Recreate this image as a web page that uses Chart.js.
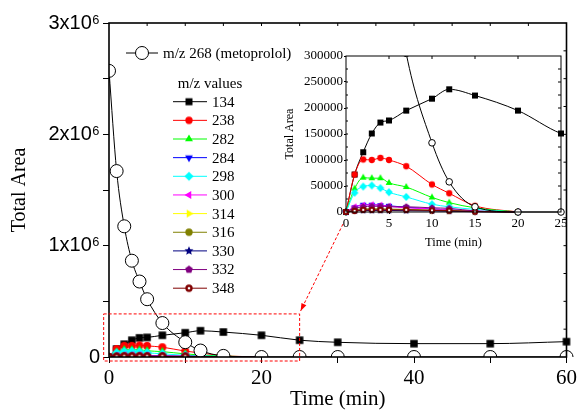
<!DOCTYPE html>
<html>
<head>
<meta charset="utf-8">
<script src="https://cdn.jsdelivr.net/npm/chart.js@4/dist/chart.umd.min.js"></script>
<style>
  html, body { margin: 0; padding: 0; background: #fff; }
  #wrap { position: relative; width: 580px; height: 412px; }
  #main { position: absolute; left: 0; top: 0; }
  #inset { position: absolute; left: 278px; top: 40px; }
</style>
</head>
<body>
<div id="wrap">
  <canvas id="main" width="580" height="412"></canvas>
  <canvas id="inset" width="292" height="210"></canvas>
</div>
<script>
// sampling times (min)
const timeFull = [0, 1, 2, 3, 4, 5, 7, 10, 12, 15, 20, 25, 30, 40, 50, 60];
const timeShort = [0, 1, 2, 3, 4, 5, 7, 10, 12, 15, 20];

// total area values
const meto268 = [2570000, 1670000, 1174000, 865000, 678000, 519000, 305000, 133000, 58000, 10000, 0, 0, 0, 0, 0, 0];
const mz134 = [0, 72000, 115000, 151000, 172000, 176000, 195000, 218000, 236000, 224000, 195000, 151000, 132000, 120000, 120000, 138000];
const mz238 = [0, 72000, 101000, 100000, 104000, 100000, 88000, 53000, 36000, 12000, 0];
const mz282 = [0, 45000, 66000, 65000, 65000, 56000, 48000, 28000, 18000, 8000, 0];
const mz284 = [0, 9000, 14000, 14000, 13000, 12000, 9000, 6000, 4000, 1500, 0];
const mz298 = [0, 37000, 49000, 51000, 46000, 38000, 29000, 15000, 10000, 5000, 0];
const mz300 = [0, 10000, 13000, 14000, 13000, 11000, 8000, 6000, 4000, 1500, 0];
const mz314 = [0, 3000, 5000, 5000, 5000, 4500, 4000, 3000, 2000, 1000, 0];
const mz316 = [0, 4000, 6000, 6000, 6000, 5500, 5000, 3500, 3000, 1000, 0];
const mz330 = [0, 2000, 3000, 3000, 3000, 3000, 2500, 2000, 1500, 500, 0];
const mz332 = [0, 7000, 10000, 11000, 11000, 10000, 10000, 8000, 7000, 2000, 0];
const mz348 = [0, 2000, 4000, 4000, 4000, 4000, 4000, 3000, 2500, 800, 0];

const metoLabel = 'm/z 268 (metoprolol)';
const seriesLabels = ['134', '238', '282', '284', '298', '300', '314', '316', '330', '332', '348'];
const seriesValues = [mz134, mz238, mz282, mz284, mz298, mz300, mz314, mz316, mz330, mz332, mz348];
const seriesTimes = [timeFull, timeShort, timeShort, timeShort, timeShort, timeShort, timeShort, timeShort, timeShort, timeShort, timeShort];

const seriesColors = ['#000000', '#ff0000', '#00ff00', '#0000ff', '#00ffff', '#ff00ff', '#ffff00', '#808000', '#000080', '#800080', '#800000'];
const seriesShapes = ['square', 'circle', 'triUp', 'triDown', 'diamond', 'triLeft', 'triRight', 'circle', 'star', 'pentagon', 'dotcircle'];

const serif = 'Liberation Serif';
const sans = 'Liberation Sans';

// little canvases used as point styles
function makeMarker(shape, color, size) {
  const s = Math.ceil(size * 1.6) + 2;
  const c = document.createElement('canvas');
  c.width = s; c.height = s;
  const g = c.getContext('2d');
  const cx = s / 2, cy = s / 2, r = size / 2;
  g.fillStyle = color;
  g.beginPath();
  function poly(n, R, start) {
    for (let i = 0; i < n; i++) {
      const a = start + i * 2 * Math.PI / n;
      const px = cx + R * Math.cos(a), py = cy + R * Math.sin(a);
      if (i === 0) g.moveTo(px, py); else g.lineTo(px, py);
    }
    g.closePath();
  }
  if (shape === 'square') {
    g.rect(cx - r, cy - r, 2 * r, 2 * r);
  } else if (shape === 'circle' || shape === 'dotcircle') {
    g.arc(cx, cy, r * 1.05, 0, Math.PI * 2);
  } else if (shape === 'diamond') {
    poly(4, r * 1.3, -Math.PI / 2);
  } else if (shape === 'triUp') {
    poly(3, r * 1.3, -Math.PI / 2);
  } else if (shape === 'triDown') {
    poly(3, r * 1.3, Math.PI / 2);
  } else if (shape === 'triLeft') {
    poly(3, r * 1.3, Math.PI);
  } else if (shape === 'triRight') {
    poly(3, r * 1.3, 0);
  } else if (shape === 'pentagon') {
    poly(5, r * 1.15, -Math.PI / 2);
  } else if (shape === 'star') {
    const R = r * 1.35, ri = R * 0.45;
    for (let i = 0; i < 10; i++) {
      const a = -Math.PI / 2 + i * Math.PI / 5;
      const rr = i % 2 ? ri : R;
      const px = cx + rr * Math.cos(a), py = cy + rr * Math.sin(a);
      if (i === 0) g.moveTo(px, py); else g.lineTo(px, py);
    }
    g.closePath();
  }
  g.fill();
  if (shape === 'dotcircle') {
    g.fillStyle = '#fff';
    g.beginPath();
    g.arc(cx, cy, r * 0.38, 0, Math.PI * 2);
    g.fill();
  }
  return c;
}

function buildDatasets(big) {
  const mSize = big ? 7.5 : 6;
  const clip = big ? { left: 0, right: 8, top: 8, bottom: 0 } : { left: 5, right: 5, top: 0, bottom: 5 };
  let ds = [];
  ds.push({
    label: metoLabel,
    data: timeFull.map((t, i) => ({ x: t, y: meto268[i] })),
    borderColor: '#000', borderWidth: 1,
    pointStyle: 'circle', pointRadius: big ? 6.5 : 3.3,
    pointBackgroundColor: '#fff', pointBorderColor: '#000', pointBorderWidth: 1,
    cubicInterpolationMode: 'monotone', order: 0, clip: clip
  });
  seriesLabels.forEach((lab, k) => {
    ds.push({
      label: lab,
      data: seriesTimes[k].map((t, i) => ({ x: t, y: seriesValues[k][i] })),
      borderColor: seriesColors[k], borderWidth: 1,
      pointStyle: makeMarker(seriesShapes[k], seriesColors[k], mSize),
      pointRadius: mSize / 2,
      cubicInterpolationMode: 'monotone',
      order: seriesLabels.length - k,
      clip: clip
    });
  });
  return ds;
}

function tickLine(ctx, x1, y1, x2, y2) {
  ctx.beginPath(); ctx.moveTo(x1, y1); ctx.lineTo(x2, y2); ctx.stroke();
}

const mainDecor = {
  id: 'mainDecor',
  afterDatasetsDraw(chart) {
    const { ctx, chartArea: a, scales: { x, y } } = chart;
    ctx.save();
    ctx.strokeStyle = '#000';
    ctx.lineWidth = 1.6;
    ctx.strokeRect(a.left, a.top, a.right - a.left, a.bottom - a.top);
    ctx.lineWidth = 1;
    for (let t = 5; t < 60; t += 5) {
      const px = x.getPixelForValue(t);
      tickLine(ctx, px, a.top, px, a.top + 3);
    }
    for (let v = 250000; v < 3000000; v += 250000) {
      const py = y.getPixelForValue(v);
      tickLine(ctx, a.right, py, a.right - 3, py);
    }

    // dashed zoom box
    const bx1 = x.getPixelForValue(-0.7), bx2 = x.getPixelForValue(25);
    const by1 = y.getPixelForValue(387000), by2 = y.getPixelForValue(-36000);
    ctx.strokeStyle = '#ff0000';
    ctx.setLineDash([3, 2]);
    ctx.strokeRect(bx1, by1, bx2 - bx1, by2 - by1);
    // arrow toward the box
    const sx = 343, sy = 224, ex = bx2 + 1, ey = by1 - 3;
    tickLine(ctx, sx, sy, ex, ey);
    ctx.setLineDash([]);
    const ang = Math.atan2(ey - sy, ex - sx);
    ctx.fillStyle = '#ff0000';
    ctx.beginPath();
    ctx.moveTo(ex, ey);
    ctx.lineTo(ex - 8 * Math.cos(ang - 0.35), ey - 8 * Math.sin(ang - 0.35));
    ctx.lineTo(ex - 8 * Math.cos(ang + 0.35), ey - 8 * Math.sin(ang + 0.35));
    ctx.closePath();
    ctx.fill();

    // legend
    ctx.strokeStyle = '#000';
    ctx.fillStyle = '#000';
    ctx.lineWidth = 1;
    ctx.font = '15px "' + serif + '"';
    ctx.textBaseline = 'middle';
    tickLine(ctx, 126, 53, 158, 53);
    ctx.fillStyle = '#fff';
    ctx.beginPath(); ctx.arc(142, 53, 6.5, 0, Math.PI * 2); ctx.fill(); ctx.stroke();
    ctx.fillStyle = '#000';
    ctx.textAlign = 'left';
    ctx.fillText(metoLabel, 163, 54);
    ctx.textAlign = 'center';
    ctx.fillText('m/z values', 210, 84);
    ctx.textAlign = 'left';
    seriesLabels.forEach((lab, k) => {
      const ly = 101.7 + k * 18.65;
      ctx.strokeStyle = seriesColors[k];
      tickLine(ctx, 173, ly, 207, ly);
      const m = makeMarker(seriesShapes[k], seriesColors[k], 7);
      ctx.drawImage(m, 189 - m.width / 2, ly - m.height / 2);
      ctx.fillStyle = '#000';
      ctx.fillText(lab, 212, ly + 1);
    });
    ctx.restore();
  }
};

const insetDecor = {
  id: 'insetDecor',
  beforeDatasetsDraw(chart) {
    const { ctx, chartArea: a } = chart;
    ctx.save();
    ctx.fillStyle = '#fff';
    ctx.fillRect(a.left, a.top, a.right - a.left, a.bottom - a.top);
    ctx.restore();
  },
  afterDatasetsDraw(chart) {
    const { ctx, chartArea: a, scales: { x, y } } = chart;
    ctx.save();
    ctx.strokeStyle = '#000';
    ctx.lineWidth = 1;
    ctx.strokeRect(a.left, a.top, a.right - a.left, a.bottom - a.top);
    for (let t = 5; t < 25; t += 5) {
      const px = x.getPixelForValue(t);
      tickLine(ctx, px, a.top, px, a.top + 3);
    }
    for (let v = 25000; v < 300000; v += 25000) {
      const py = y.getPixelForValue(v);
      tickLine(ctx, a.right, py, a.right - 3, py);
      tickLine(ctx, a.left, py, a.left + 2, py);
    }
    ctx.restore();
  }
};

new Chart(document.getElementById('main'), {
  type: 'line',
  data: { datasets: buildDatasets(true) },
  options: {
    responsive: false,
    animation: false,
    events: [],
    layout: { padding: { left: 0, right: 12, top: 23, bottom: 0 } },
    plugins: { legend: { display: false }, tooltip: { enabled: false } },
    scales: {
      x: {
        type: 'linear', min: 0, max: 60,
        afterFit: s => { s.height = 55; },
        border: { display: false },
        grid: { drawOnChartArea: false, tickLength: 6, color: '#000' },
        ticks: {
          stepSize: 10, autoSkip: false, maxRotation: 0, padding: 3, color: '#000',
          font: { family: serif, size: 21 },
          callback: v => (v % 20 === 0 ? String(v) : '')
        },
        title: { display: true, text: 'Time (min)', color: '#000', font: { family: serif, size: 21 }, padding: { top: 0, bottom: 0 } }
      },
      y: {
        type: 'linear', min: 0, max: 3000000,
        afterFit: s => { s.width = 109; },
        border: { display: false },
        grid: { drawOnChartArea: false, tickLength: 6, color: '#000' },
        ticks: {
          stepSize: 500000, autoSkip: false, padding: 3, color: '#000',
          font: { family: sans, size: 20 },
          callback: v => (v === 0 ? '0' : (v % 1000000 === 0 ? (v / 1000000) + 'x10\u2076' : ''))
        },
        title: { display: true, text: 'Total Area', color: '#000', font: { family: serif, size: 20 }, padding: { top: 8, bottom: 0 } }
      }
    }
  },
  plugins: [mainDecor]
});

new Chart(document.getElementById('inset'), {
  type: 'line',
  data: { datasets: buildDatasets(false) },
  options: {
    responsive: false,
    animation: false,
    events: [],
    layout: { padding: { left: 0, right: 9, top: 16, bottom: 0 } },
    plugins: { legend: { display: false }, tooltip: { enabled: false } },
    scales: {
      x: {
        type: 'linear', min: 0, max: 25,
        afterFit: s => { s.height = 38; },
        border: { display: false },
        grid: { drawOnChartArea: false, tickLength: 2, color: '#000' },
        ticks: { stepSize: 5, autoSkip: false, maxRotation: 0, padding: 2, color: '#000', font: { family: serif, size: 13 } },
        title: { display: true, text: 'Time (min)', color: '#000', font: { family: serif, size: 12.5 }, padding: { top: 2, bottom: 0 } }
      },
      y: {
        type: 'linear', min: 0, max: 300000,
        afterFit: s => { s.width = 68; },
        border: { display: false },
        grid: { drawOnChartArea: false, tickLength: 2, color: '#000' },
        ticks: { stepSize: 50000, autoSkip: false, padding: 1, color: '#000', font: { family: serif, size: 13 }, callback: v => String(v) },
        title: { display: true, text: 'Total Area', color: '#000', font: { family: serif, size: 12 }, padding: { top: 5, bottom: 0 } }
      }
    }
  },
  plugins: [insetDecor]
});
</script>
</body>
</html>
